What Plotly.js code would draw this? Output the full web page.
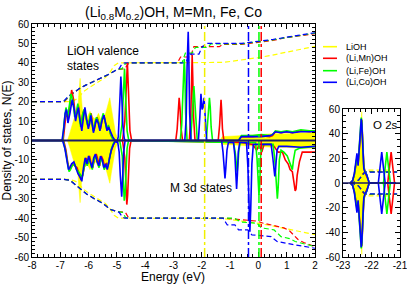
<!DOCTYPE html>
<html><head><meta charset="utf-8">
<script src="https://cdn.plot.ly/plotly-3.0.1.min.js"></script>
<style>html,body{margin:0;padding:0;background:#fff}#chart{width:407px;height:284px}</style>
</head><body><div id="chart"></div>
<script>
// ---------- data ----------
const seriesNames = ['LiOH', '(Li,Mn)OH', '(Li,Fe)OH', '(Li,Co)OH'];
const fermiLevels = [-1.9, 0.1, 0.02, -0.35]; // LiOH, Mn, Fe, Co

// LiOH DOS (non-magnetic: spin-down is the mirror)
const liohE = [-8, -6.75, -6.68, -6.6, -6.52, -6.45, -6.38, -6.33, -6.3, -6.27, -6.22, -6.15, -6.05, -5.95, -5.85, -5.75, -5.65, -5.55, -5.45, -5.38, -5.3, -5.25, -5.2, -5.12, -5.05, -4.98, -4.92, -1.35, -1.28, -1.0, -0.5, 0, 0.5, 1.0, 1.5, 2];
const liohN = [0, 0, 3, 7, 11, 13, 17, 27, 32, 25, 16, 14, 12, 15, 12, 11, 14, 10, 12, 15, 19, 22, 17, 9, 4, 1, 0, 0, 2, 2.2, 2.5, 3, 3.5, 3.5, 4, 4];

// (Li,Mn)OH spin-up / spin-down
const mnUpE = [-8, -6.9, -6.84, -6.78, -6.72, -6.66, -6.6, -6.53, -6.47, -6.41, -6.36, -6.31, -6.26, -6.2, -6.14, -6.08, -6.02, -5.96, -5.91, -5.86, -5.81, -5.76, -5.7, -5.64, -5.58, -5.52, -5.46, -5.4, -5.34, -5.28, -5.22, -5.14, -5.06, -4.98, -4.8, -4.72, -4.67, -4.63, -4.59, -4.54, -4.48,
  -2.92, -2.87, -2.83, -2.8, -2.77, -2.73, -2.68, -2.44, -2.39, -2.36, -2.34, -2.32, -2.29, -2.24, -1.42, -1.37, -1.34, -1.32, -1.3, -1.27, -1.22, -0.7, -0.6, -0.2, 0.1, 0.4, 0.5, 0.6, 0.8, 1.0, 1.2, 1.5, 1.8, 2];
const mnUpN = [0, 0, 8, 15, 11, 18, 26, 21, 13, 14, 18, 11, 7, 14, 16, 11, 8, 11, 14, 8, 5, 9, 12, 9, 6, 11, 13, 9, 6, 7, 3, 1, 0, 0, 0, 10, 30, 40, 25, 5, 0,
  0, 6, 17, 22, 17, 6, 0, 0, 12, 33, 44, 33, 12, 0, 0, 8, 17, 21, 16, 6, 0, 0, 2, 2, 2.5, 2, 2.5, 4.5, 4, 4.5, 4, 5, 4.5, 5];
const mnDnE = [-8, -6.88, -6.8, -6.73, -6.67, -6.62, -6.56, -6.48, -6.41, -6.34, -6.27, -6.21, -6.15, -6.09, -6.03, -5.97, -5.91, -5.85, -5.79, -5.73, -5.67, -5.61, -5.55, -5.49, -5.43, -5.37, -5.31, -5.25, -5.17, -5.09, -5.01, -4.8, -4.72, -4.68, -4.65, -4.62, -4.59, -4.55, -4.5,
  -0.6, -0.2, -0.06, 0.0, 0.05, 0.12, 0.2, 0.45, 0.55, 0.7, 0.85, 0.95, 1.05, 1.12, 1.2, 1.26, 1.3, 1.33, 1.37, 1.45, 1.55, 1.7, 2];
const mnDnN = [0, 0, -5, -12, -15, -14, -12, -13, -14, -17, -20, -18, -13, -9, -12, -8, -12, -14, -9, -7, -10, -13, -8, -10, -14, -12, -13, -8, -4, -1, 0, 0, -9, -24, -33, -28, -15, -4, 0,
  -1, -2, -5, -3, -3, -6, -2, -2, -3, -6, -6, -10, -12, -15, -16, -22, -26, -25, -18, -11, -6, -6, -6];

// (Li,Fe)OH
const feUpE = [-8, -6.92, -6.86, -6.8, -6.74, -6.68, -6.62, -6.55, -6.49, -6.43, -6.38, -6.33, -6.28, -6.22, -6.16, -6.1, -6.04, -5.98, -5.93, -5.88, -5.83, -5.78, -5.72, -5.66, -5.6, -5.54, -5.48, -5.42, -5.36, -5.3, -5.24, -5.16, -5.08, -5.0, -4.9, -4.82, -4.77, -4.73, -4.69, -4.64, -4.58,
  -2.76, -2.71, -2.67, -2.64, -2.62, -2.6, -2.57, -2.52, -2.4, -2.35, -2.31, -2.28, -2.25, -2.21, -2.16, -1.84, -1.79, -1.76, -1.73, -1.7, -1.67, -1.62, -0.7, -0.6, -0.2, 0.1, 0.4, 0.5, 0.6, 0.8, 1.0, 1.2, 1.5, 1.8, 2];
const feUpN = [0, 0, 10, 17, 12, 18, 24, 20, 12, 15, 19, 12, 7, 13, 16, 12, 8, 10, 14, 9, 5, 9, 12, 10, 6, 11, 14, 10, 6, 8, 4, 1, 0, 0, 0, 8, 25, 37, 22, 5, 0,
  0, 8, 28, 38, 42, 36, 14, 0, 0, 10, 22, 28, 21, 9, 0, 0, 9, 18, 22, 17, 7, 0, 0, 2.5, 2.5, 3, 2.5, 3, 5, 4.5, 5, 4.5, 5.5, 5, 5];
const feDnE = [-8, -6.9, -6.82, -6.75, -6.69, -6.64, -6.58, -6.5, -6.43, -6.36, -6.29, -6.23, -6.17, -6.11, -6.05, -5.99, -5.93, -5.87, -5.81, -5.75, -5.69, -5.63, -5.57, -5.51, -5.45, -5.39, -5.33, -5.27, -5.19, -5.11, -5.03, -4.9, -4.81, -4.77, -4.74, -4.71, -4.68, -4.64, -4.59,
  -0.88, -0.82, -0.78, -0.75, -0.72, -0.69, -0.64, -0.1, -0.05, -0.01, 0.02, 0.05, 0.08, 0.13, 0.52, 0.58, 0.63, 0.67, 0.7, 0.74, 0.8, 0.9, 1.02, 1.1, 1.16, 1.2, 1.24, 1.3, 1.45, 2];
const feDnN = [0, 0, -5, -11, -16, -15, -13, -12, -15, -16, -18, -19, -15, -10, -13, -9, -12, -15, -10, -8, -11, -14, -9, -11, -15, -13, -14, -9, -4, -1, 0, 0, -8, -22, -31, -28, -16, -4, 0,
  -1, -6, -13, -16, -12, -5, -1, -1, -9, -22, -28, -22, -8, -2, -2, -10, -24, -30, -24, -10, -5, -6, -8, -11, -14, -15, -10, -5, -4, -3];

// (Li,Co)OH
const coUpE = [-8, -6.94, -6.88, -6.83, -6.78, -6.73, -6.66, -6.58, -6.51, -6.46, -6.41, -6.36, -6.3, -6.24, -6.18, -6.13, -6.07, -6.01, -5.96, -5.92, -5.87, -5.83, -5.77, -5.72, -5.66, -5.6, -5.53, -5.46, -5.4, -5.35, -5.3, -5.22, -5.15, -5.07, -5.0, -4.95, -4.91, -4.88, -4.86, -4.83, -4.79, -4.74, -4.7,
  -2.6, -2.55, -2.52, -2.5, -2.48, -2.46, -2.43, -2.38, -2.12, -2.07, -2.03, -1.99, -1.96, -1.92, -1.88, -1.83, -0.7, -0.6, -0.2, 0.1, 0.4, 0.5, 0.6, 0.8, 1.0, 1.2, 1.5, 1.8, 2];
const coUpN = [0, 0, 6, 14, 16, 9, 14, 21, 16, 10, 14, 17, 10, 5, 12, 17, 11, 6, 9, 13, 8, 4, 8, 11, 9, 5, 10, 13, 9, 5, 7, 4, 2, 0, -1, 2, 14, 28, 33, 24, 8, 1, 0,
  0, 12, 38, 52, 56, 44, 14, 0, 0, 12, 24, 16, 17, 22, 12, 0, 0, 2, 2, 2, 2.5, 3, 4.5, 4, 4.5, 4, 4.5, 4.5, 4.5];
const coDnE = [-8, -6.92, -6.84, -6.77, -6.71, -6.66, -6.6, -6.52, -6.45, -6.38, -6.3, -6.24, -6.18, -6.12, -6.06, -6.0, -5.94, -5.88, -5.82, -5.76, -5.7, -5.64, -5.58, -5.52, -5.46, -5.4, -5.34, -5.28, -5.2, -5.12, -5.04, -4.97, -4.92, -4.88, -4.85, -4.83, -4.8, -4.76, -4.71,
  -1.3, -1.25, -1.21, -1.18, -1.15, -1.11, -1.06, -0.88, -0.83, -0.8, -0.77, -0.74, -0.71, -0.66, -0.42, -0.37, -0.33, -0.3, -0.27, -0.23, -0.18, 0.0, 0.45, 0.51, 0.55, 0.58, 0.61, 0.66, 0.72, 1.0, 1.5, 2];
const coDnN = [0, 0, -4, -10, -15, -14, -12, -11, -14, -17, -19, -21, -14, -9, -12, -8, -11, -14, -9, -7, -11, -13, -8, -10, -14, -12, -15, -10, -5, -2, 0, -1, -6, -18, -26, -29, -20, -6, 0,
  0, -6, -15, -19.5, -14, -5, -1, -1, -8, -18, -25, -17, -6, -1, -1, -14, -38, -47, -35, -12, -2, -2, -2, -9, -16, -18.5, -14, -5, -3, -3, -3.5, -3];

// integrated number of states (dashed)
const liohIntE = [-8, -6.7, -6.5, -6.4, -6.3, -6.2, -5.9, -5.6, -5.4, -5.25, -5.1, -4.95, -1.9, -1.3, -1.0, -0.5, 0, 0.5, 1.0, 1.5, 2];
const liohIntN = [20, 20, 20.8, 21.5, 23, 25, 28, 30.5, 32.5, 35, 38.5, 40, 40, 40.2, 40.7, 41.6, 42.7, 44, 45.5, 47, 48.5];
const mnIntUpE = [-8, -6.86, -6.66, -6.5, -6.3, -6.1, -5.8, -5.6, -5.3, -5.0, -4.72, -4.6, -4.5, -2.86, -2.75, -2.4, -2.28, -1.38, -1.26, -0.6, 0, 0.5, 1.0, 1.5, 2];
const mnIntUpN = [20, 20, 23, 25, 27, 28.5, 30.5, 32, 34, 36.5, 37, 39.5, 40, 40, 43, 43, 48.3, 48.3, 49.5, 49.5, 50.5, 51.5, 53, 54, 55];
const feIntUpE = [-8, -6.88, -6.68, -6.5, -6.3, -6.1, -5.8, -5.6, -5.3, -5.0, -4.82, -4.7, -4.6, -2.7, -2.58, -2.34, -2.22, -1.78, -1.68, -0.6, 0, 0.5, 1.0, 1.5, 2];
const feIntUpN = [20, 20, 23, 25, 27, 28.5, 30.5, 32, 34, 36.5, 37, 39.5, 40, 40, 45, 45, 48, 48, 49.8, 49.8, 50.8, 51.8, 53, 54.2, 55.3];
const coIntUpE = [-8, -6.9, -6.7, -6.5, -6.3, -6.1, -5.8, -5.6, -5.3, -5.0, -4.92, -4.82, -4.72, -2.56, -2.44, -2.1, -1.98, -1.95, -1.85, -0.6, 0, 0.5, 1.0, 1.5, 2];
const coIntUpN = [20, 20, 23, 25, 27, 28.5, 30.5, 32, 34, 36.5, 37, 39.5, 40, 40, 44.5, 44.5, 48.5, 48.5, 50, 50, 51, 52, 53.2, 54.3, 55.5];
const mnIntDnE = [-8, -6.86, -6.66, -6.5, -6.3, -6.07, -5.8, -5.6, -5.4, -5.24, -5.0, -4.7, -4.6, -4.5, -1.2, -0.4, -0.05, 0.15, 0.5, 0.9, 1.1, 1.25, 1.4, 1.6, 2];
const mnIntDnN = [-20, -20, -20.5, -22.5, -25, -27.5, -30, -31.5, -33.5, -35.5, -36.5, -37, -39.5, -40, -40, -41, -41.5, -42.5, -43.5, -45, -46.5, -49, -51, -52.5, -54.7];
const feIntDnE = [-8, -6.88, -6.66, -6.5, -6.3, -6.07, -5.8, -5.6, -5.4, -5.24, -5.0, -4.8, -4.7, -4.6, -0.85, -0.62, -0.05, 0.1, 0.55, 0.8, 1.1, 1.3, 2];
const feIntDnN = [-20, -20, -20.5, -22.5, -25, -27.5, -30, -31.5, -33.5, -35.5, -36.5, -37, -39.5, -40, -40, -42, -42.6, -45, -46, -49.5, -50.5, -52, -54.7];
const coIntDnE = [-8, -6.9, -6.66, -6.5, -6.3, -6.07, -5.8, -5.6, -5.4, -5.24, -5.0, -4.92, -4.8, -4.72, -1.25, -1.1, -0.83, -0.7, -0.37, -0.23, 0.45, 0.66, 1.2, 2];
const coIntDnN = [-20, -20, -20.5, -22.5, -25, -27.5, -30, -31.5, -33.5, -35.5, -36.5, -37, -39.5, -40, -40, -43.5, -43.5, -46, -46, -48.6, -49.5, -52, -53.5, -55.5];

// O 2s inset (spin-down is the mirror)
const o2sE = [-22.75, -22.66, -22.6, -22.55, -22.51, -22.47, -22.43, -22.39, -22.36, -22.34, -22.31, -22.27, -22.22, -22.17, -22.12, -22.08];
const liohO2s = [0, 2, 8, 18, 23, 16, 28, 45, 55, 58, 42, 18, 9, 5, 2, 0];
const mnO2sE = [-22.75, -22.66, -22.6, -22.55, -22.51, -22.47, -22.43, -22.39, -22.36, -22.34, -22.31, -22.27, -22.22, -22.17, -22.12, -22.08, -21.43, -21.31, -21.19, -21.15];
const mnO2s = [0, 2, 7, 15, 20, 16, 26, 42, 50, 51, 35, 14, 8, 6, 3, 0, 0, 25, 0, 0];
const feO2sE = [-22.75, -22.66, -22.6, -22.55, -22.51, -22.47, -22.43, -22.39, -22.36, -22.34, -22.31, -22.27, -22.22, -22.17, -22.12, -22.08, -21.58, -21.46, -21.34, -21.15];
const feO2s = [0, 2, 7, 16, 21, 15, 27, 44, 53, 50, 32, 13, 8, 7, 3, 0, 0, 25, 0, 0];
const coO2sE = [-22.75, -22.66, -22.6, -22.55, -22.51, -22.47, -22.43, -22.39, -22.36, -22.34, -22.31, -22.27, -22.22, -22.17, -22.12, -22.08, -21.76, -21.64, -21.52, -21.15];
const coO2s = [0, 2, 8, 18, 24, 14, 26, 42, 52, 48, 30, 12, 8, 7, 3, 0, 0, 25, 0, 0];
const liohO2sIntE = [-22.75, -22.55, -22.45, -22.38, -22.32, -22.25, -22.17, -21.4];
const liohO2sInt = [0, 1, 2.5, 5, 8, 9.5, 10.5, 10.5];
const dopedO2sIntE = [-22.75, -22.55, -22.45, -22.38, -22.32, -22.25, -22.17, -21.1];
const mnO2sInt = [0, 1, 2.5, 4.5, 7.2, 8.8, 9.3, 9.3];
const feO2sInt = [0, 1, 2.5, 4.5, 7, 8.5, 9, 9];
const coO2sInt = [0, 1, 2.5, 4.5, 7, 8.3, 8.8, 8.8];

const xTickVals = [-8, -7, -6, -5, -4, -3, -2, -1, 0, 1, 2];
const xTickText = ['-8', '-7', '-6', '-5', '-4', '-3', '-2', '-1', '0', '1', '2'];
const yTickVals = [-60, -50, -40, -30, -20, -10, 0, 10, 20, 30, 40, 50, 60];
const yTickText = ['-60', '-50', '-40', '-30', '-20', '-10', '0', '10', '20', '30', '40', '50', '60'];
const x2TickVals = [-23, -22, -21];
const x2TickText = ['-23', '-22', '-21'];
const y2TickVals = [-60, -40, -20, 0, 20, 40, 60];
const y2TickText = ['-60', '-40', '-20', '0', '20', '40', '60'];

// ---------- styling & drawing ----------
const COLORS = ['#ffff00', '#ff0000', '#00ff00', '#0000ff'];
const neg = a => a.map(v => -v);
const traces = [];
function fillTr(x, y, xa, ya) {
  traces.push({x, y, xaxis: xa, yaxis: ya, type: 'scatter', mode: 'lines', fill: 'tozeroy',
    fillcolor: COLORS[0], line: {color: COLORS[0], width: 0.5}, hoverinfo: 'skip'});
}
function lineTr(x, y, c, xa, ya, dashed) {
  traces.push({x, y, xaxis: xa, yaxis: ya, type: 'scatter', mode: 'lines',
    line: {color: COLORS[c], width: dashed ? 1.2 : 1.6, dash: dashed ? '5px,3px' : 'solid'}, hoverinfo: 'skip'});
}
fillTr(liohE, liohN, 'x', 'y');
fillTr(liohE, neg(liohN), 'x', 'y');
fillTr(o2sE, liohO2s, 'x2', 'y2');
fillTr(o2sE, neg(liohO2s), 'x2', 'y2');
lineTr(liohIntE, liohIntN, 0, 'x', 'y', true);
lineTr(liohIntE, neg(liohIntN), 0, 'x', 'y', true);
lineTr(mnIntUpE, mnIntUpN, 1, 'x', 'y', true);
lineTr(mnIntDnE, mnIntDnN, 1, 'x', 'y', true);
lineTr(feIntUpE, feIntUpN, 2, 'x', 'y', true);
lineTr(feIntDnE, feIntDnN, 2, 'x', 'y', true);
lineTr(coIntUpE, coIntUpN, 3, 'x', 'y', true);
lineTr(coIntDnE, coIntDnN, 3, 'x', 'y', true);
lineTr(liohO2sIntE, liohO2sInt, 0, 'x2', 'y2', true);
lineTr(liohO2sIntE, neg(liohO2sInt), 0, 'x2', 'y2', true);
lineTr(dopedO2sIntE, mnO2sInt, 1, 'x2', 'y2', true);
lineTr(dopedO2sIntE, neg(mnO2sInt), 1, 'x2', 'y2', true);
lineTr(dopedO2sIntE, feO2sInt, 2, 'x2', 'y2', true);
lineTr(dopedO2sIntE, neg(feO2sInt), 2, 'x2', 'y2', true);
lineTr(dopedO2sIntE, coO2sInt, 3, 'x2', 'y2', true);
lineTr(dopedO2sIntE, neg(coO2sInt), 3, 'x2', 'y2', true);
lineTr(mnUpE, mnUpN, 1, 'x', 'y');
lineTr(mnDnE, mnDnN, 1, 'x', 'y');
lineTr(feUpE, feUpN, 2, 'x', 'y');
lineTr(feDnE, feDnN, 2, 'x', 'y');
lineTr(coUpE, coUpN, 3, 'x', 'y');
lineTr(coDnE, coDnN, 3, 'x', 'y');
lineTr(mnO2sE, mnO2s, 1, 'x2', 'y2');
lineTr(mnO2sE, neg(mnO2s), 1, 'x2', 'y2');
lineTr(feO2sE, feO2s, 2, 'x2', 'y2');
lineTr(feO2sE, neg(feO2s), 2, 'x2', 'y2');
lineTr(coO2sE, coO2s, 3, 'x2', 'y2');
lineTr(coO2sE, neg(coO2s), 3, 'x2', 'y2');

const FONT = 'Liberation Sans, Arial, sans-serif';
function axisBase(extra) {
  return Object.assign({
    ticks: 'inside', ticklen: 5, tickwidth: 1, tickcolor: '#000', mirror: 'ticks',
    showline: true, linecolor: '#000', linewidth: 1, showgrid: false, zeroline: false,
    tickfont: {size: 10, family: FONT, color: '#000'}, tickmode: 'array', fixedrange: true,
    ticklabeloverflow: 'allow'
  }, extra);
}
const shapes = [];
fermiLevels.forEach((e, i) => shapes.push({type: 'line', xref: 'x', yref: 'y', x0: e, x1: e, y0: -60, y1: 60,
  line: {color: i === 0 ? '#f0f000' : COLORS[i], width: 1.5, dash: 'dashdot'}, layer: 'above'}));
shapes.push({type: 'line', xref: 'x', yref: 'y', x0: -8, x1: 2, y0: 0, y1: 0, line: {color: '#1c1c66', width: 2}, layer: 'above'});
shapes.push({type: 'line', xref: 'x2', yref: 'y2', x0: -23, x1: -21, y0: 0, y1: 0, line: {color: '#1c1c66', width: 1.5}, layer: 'above'});

const legY = [0.9026, 0.8528, 0.7996, 0.7498];
const annotations = [];
seriesNames.forEach((n, i) => {
  shapes.push({type: 'line', xref: 'paper', yref: 'paper', x0: 0.7908, x1: 0.8288, y0: legY[i], y1: legY[i],
    line: {color: COLORS[i], width: 1.6}});
  annotations.push({xref: 'paper', yref: 'paper', x: 0.8478, y: legY[i], xanchor: 'left', yanchor: 'middle',
    text: n, showarrow: false, font: {size: 9, family: FONT, color: '#000'}});
});
const txt = (s) => ({size: s, family: FONT, color: '#000'});
annotations.push({xref: 'x', yref: 'y', x: -6.84, y: 46.1, xanchor: 'left', yanchor: 'middle', text: 'LiOH valence', showarrow: false, font: txt(12)});
annotations.push({xref: 'x', yref: 'y', x: -6.84, y: 38.6, xanchor: 'left', yanchor: 'middle', text: 'states', showarrow: false, font: txt(12)});
annotations.push({xref: 'x', yref: 'y', x: -3.19, y: -24.7, xanchor: 'left', yanchor: 'middle', text: 'M 3d states', showarrow: false, font: txt(12)});
annotations.push({xref: 'x2', yref: 'y2', x: -22.0, y: 47.4, xanchor: 'left', yanchor: 'middle', text: 'O 2s', showarrow: false, font: txt(11.5)});
annotations.push({xref: 'paper', yref: 'paper', x: 0.3845, y: -0.084, xanchor: 'center', yanchor: 'middle', text: 'Energy (eV)', showarrow: false, font: txt(12)});

const layout = {
  width: 407, height: 284, margin: {l: 32, r: 7, t: 24, b: 27},
  paper_bgcolor: '#fff', plot_bgcolor: '#fff', showlegend: false,
  font: {family: FONT, size: 10, color: '#000'},
  title: {text: '(Li<sub>0.8</sub>M<sub>0.2</sub>)OH, M=Mn, Fe, Co', font: txt(14),
    x: 0.3845, xanchor: 'center', xref: 'paper', y: 0.958, yref: 'container', yanchor: 'middle'},
  xaxis: axisBase({domain: [0, 0.769], range: [-8, 2], tickvals: xTickVals, ticktext: xTickText, ticklabelstandoff: -1,
    minor: {tickmode: 'linear', tick0: -8, dtick: 0.2, ticks: 'inside', ticklen: 3, tickcolor: '#000'}}),
  yaxis: axisBase({domain: [0, 1], range: [-60, 60], tickvals: yTickVals, ticktext: yTickText,
    minor: {tickmode: 'linear', tick0: -60, dtick: 2, ticks: 'inside', ticklen: 3, tickcolor: '#000'},
    title: {text: 'Density of states, N(E)', font: txt(12), standoff: 2}}),
  xaxis2: axisBase({domain: [0.845, 1], anchor: 'y2', range: [-23.001, -20.999], tickvals: x2TickVals, ticktext: x2TickText, ticklabelstandoff: -1,
    minor: {tickmode: 'linear', tick0: -23, dtick: 0.2, ticks: 'inside', ticklen: 3, tickcolor: '#000'}}),
  yaxis2: axisBase({domain: [0, 0.635], anchor: 'x2', range: [-60, 60], tickvals: y2TickVals, ticktext: y2TickText,
    minor: {tickmode: 'linear', tick0: -60, dtick: 5, ticks: 'inside', ticklen: 3, tickcolor: '#000'}}),
  shapes, annotations
};
Plotly.newPlot('chart', traces, layout, {staticPlot: true, displayModeBar: false});
</script></body></html>
